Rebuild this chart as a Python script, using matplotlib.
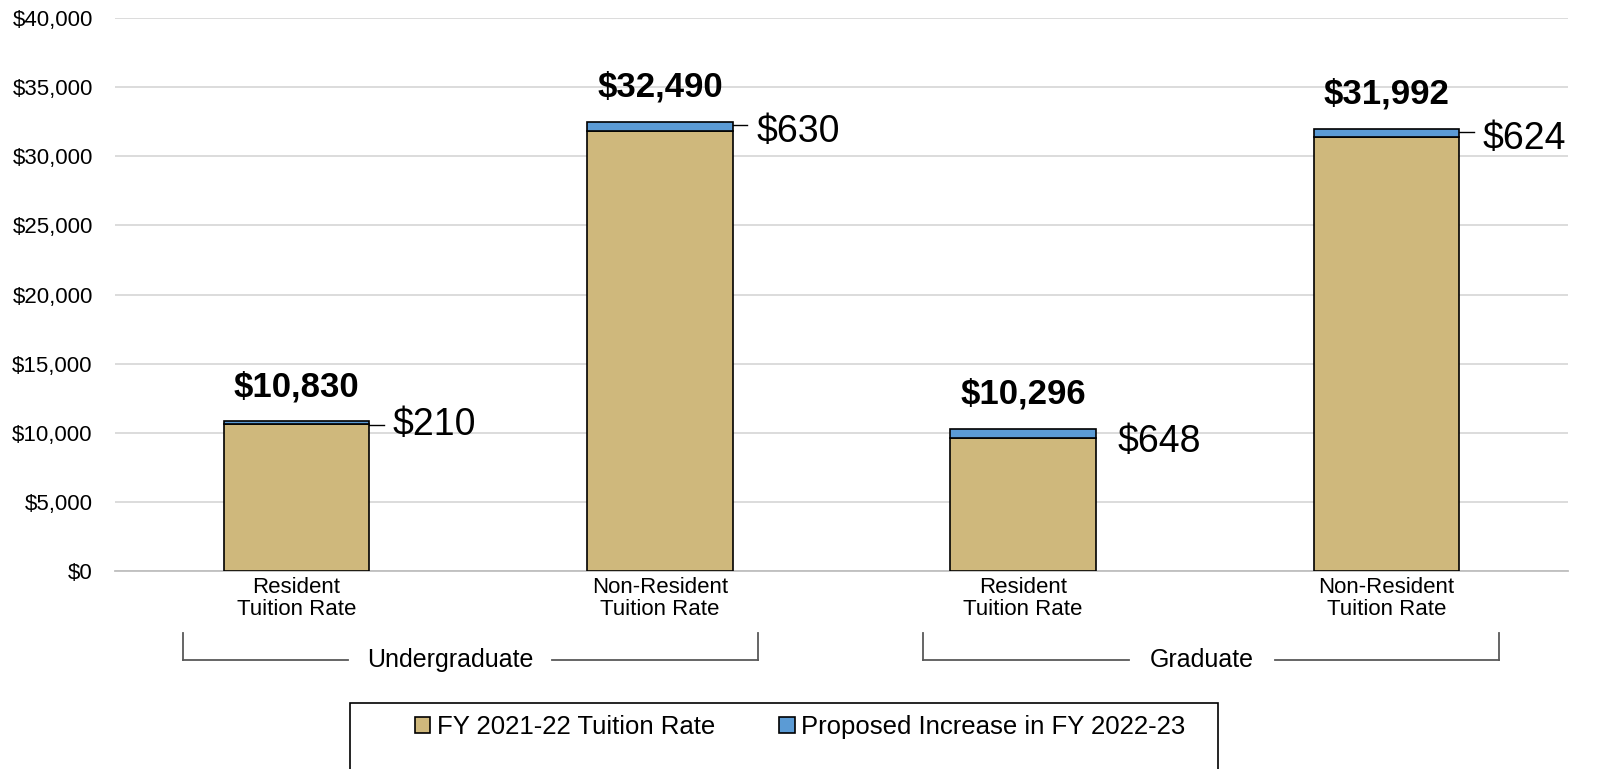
import numpy as np
import matplotlib.pyplot as plt
from matplotlib.patches import Rectangle

plt.rcParams['font.family'] = ['Liberation Sans', 'DejaVu Sans']

categories = ["Resident\nTuition Rate", "Non-Resident\nTuition Rate",
              "Resident\nTuition Rate", "Non-Resident\nTuition Rate"]
groups = ["Undergraduate", "Graduate"]
totals = [10830, 32490, 10296, 31992]
increases = [210, 630, 648, 624]
base_rates = [t - i for t, i in zip(totals, increases)]
series_names = ["FY 2021-22 Tuition Rate", "Proposed Increase in FY 2022-23"]

TAN = "#CFB87C"
BLUE = "#5B9BD5"

fig = plt.figure(figsize=(16.11, 7.69), dpi=100)
ax = fig.add_axes([115 / 1611, 1 - 571 / 769, 1453 / 1611, 553 / 769])

x = np.arange(len(categories))
width = 0.40
ax.bar(x, base_rates, width, color=TAN, edgecolor="black", linewidth=1.2,
       label=series_names[0], zorder=3)
ax.bar(x, increases, width, bottom=base_rates, color=BLUE, edgecolor="black",
       linewidth=1.2, label=series_names[1], zorder=3)

ax.set_xlim(-0.5, 3.5)
ax.set_ylim(0, 40000)
ax.set_yticks(np.arange(0, 40001, 5000))
ax.set_yticklabels([f"${v:,.0f}" for v in np.arange(0, 40001, 5000)], fontsize=16)
ax.set_xticks(x)
ax.set_xticklabels(categories, fontsize=16, linespacing=1.1)
ax.tick_params(axis="x", length=0, pad=4)
ax.tick_params(axis="y", length=0, pad=16)
ax.yaxis.grid(True, color="#d9d9d9", linewidth=1.3, zorder=0)
for s in ["top", "right", "left"]:
    ax.spines[s].set_visible(False)
ax.spines["bottom"].set_color("#bfbfbf")
ax.spines["bottom"].set_linewidth(1.3)

# totals and increase labels
for i, (t, inc) in enumerate(zip(totals, increases)):
    ax.text(x[i], t + 1300, f"${t:,}", ha="center", va="bottom",
            fontsize=25, fontweight="bold")
    xe = x[i] + width / 2
    if i == 2:
        ax.text(xe + 0.06, t - 1000, f"${inc}", ha="left",
                va="center", fontsize=27)
    else:
        yl = t - 250
        ax.plot([xe, xe + 0.04], [yl, yl], color="black", lw=1, clip_on=False)
        ax.text(xe + 0.065, yl - (0 if i == 0 else 500), f"${inc}", ha="left",
                va="center", fontsize=27)


# group brackets below the axis
def to_fig(px, py):
    return px / 1611, 1 - py / 769


brackets = [(183, 758, 450, 102), (923, 1499, 1202, 73)]
for name, (x0, x1, xm, half_gap) in zip(groups, brackets):
    for seg in [(x0, xm - half_gap), (xm + half_gap, x1)]:
        fx, fy = zip(to_fig(seg[0], 660), to_fig(seg[1], 660))
        fig.add_artist(plt.Line2D(fx, fy, color="#595959", lw=1.3))
    for xe in (x0, x1):
        fx, fy = zip(to_fig(xe, 633), to_fig(xe, 660))
        fig.add_artist(plt.Line2D(fx, fy, color="#595959", lw=1.3))
    fig.text(*to_fig(xm, 660), name, ha="center", va="center", fontsize=18)

# legend box runs past the bottom edge, as in the reference
fig.add_artist(Rectangle(to_fig(350, 790), 868 / 1611, 87 / 769,
                         transform=fig.transFigure, fill=False,
                         edgecolor="black", linewidth=1.2))
leg = fig.legend(loc="center", bbox_to_anchor=to_fig(800, 727), ncol=2,
                 fontsize=18.5, frameon=False,
                 handlelength=0.6, handleheight=0.6, handletextpad=0.25,
                 columnspacing=2.5, borderaxespad=0)

fig.savefig("out.png", dpi=100)
